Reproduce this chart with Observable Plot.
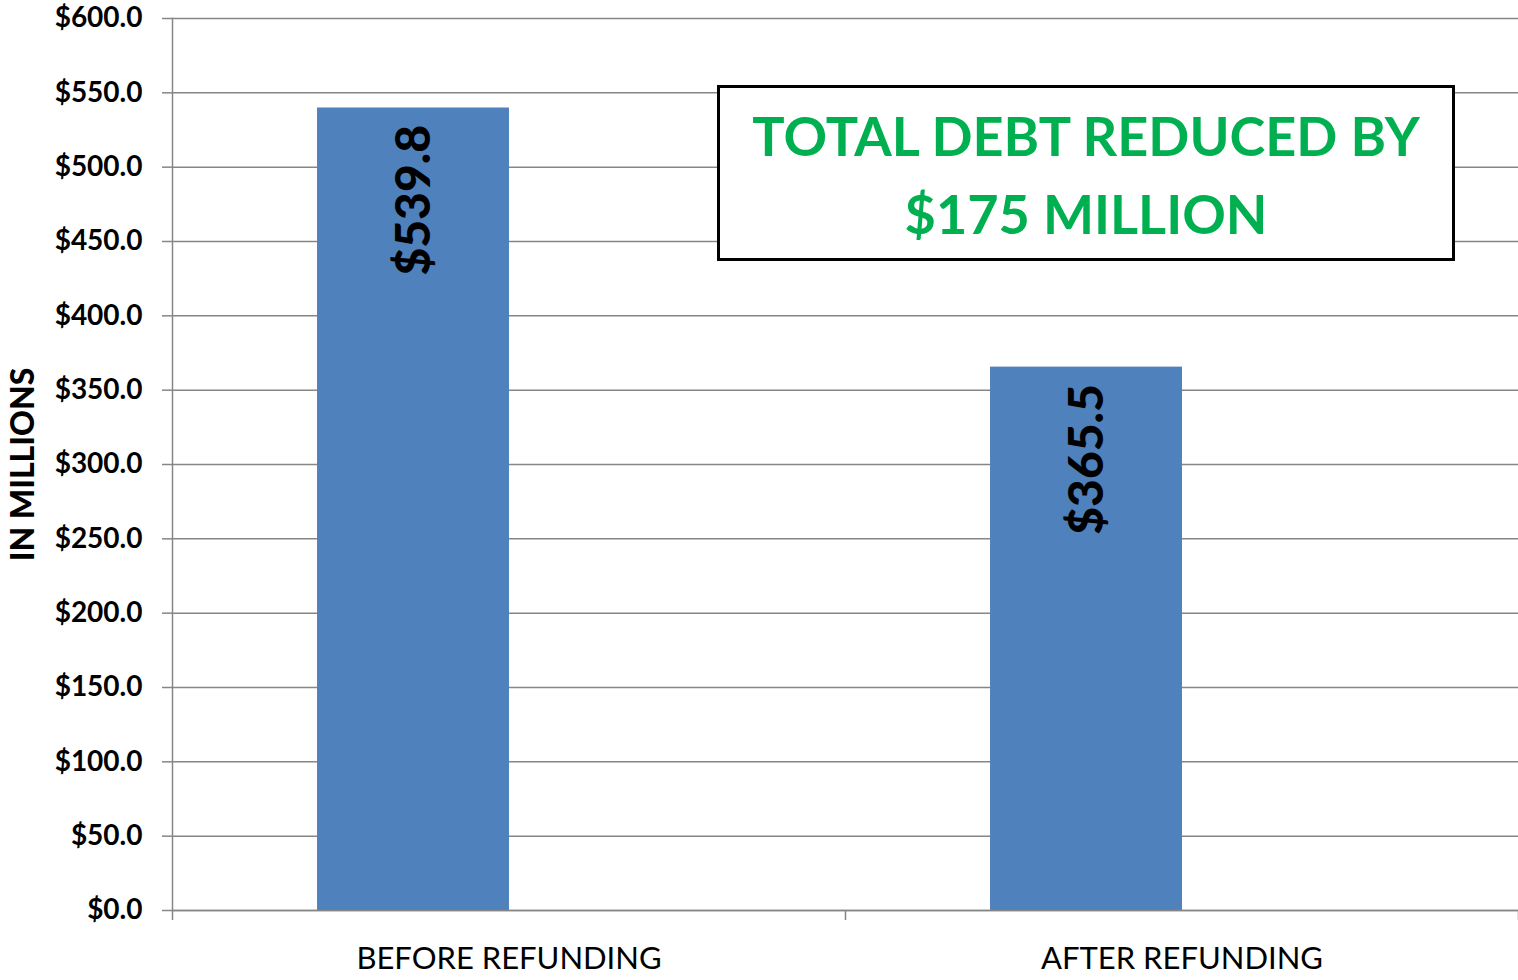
<!DOCTYPE html>
<html>
<head>
<meta charset="utf-8">
<script src="https://cdn.jsdelivr.net/npm/d3@7"></script>
<script src="https://cdn.jsdelivr.net/npm/@observablehq/plot@0.6"></script>
<style>
  html, body { margin: 0; padding: 0; background: #fff; }
  #wrap { position: relative; width: 1518px; height: 980px; font-family: Lato, "Open Sans", sans-serif; }
  #note {
    position: absolute; left: 717px; top: 85px; width: 738px; height: 176px;
    box-sizing: border-box; border: 3.5px solid #000; background: #fff;
    color: #00B050; font-weight: bold; font-size: 54px; line-height: 78px;
    text-align: center; padding-top: 9px; font-family: Lato, sans-serif;
  }
</style>
</head>
<body>
<div id="wrap"><div id="note"></div></div>
<script>
const categories = ["BEFORE REFUNDING", "AFTER REFUNDING"];
const values = [539.8, 365.5];
const valueLabels = ["$539.8", "$365.5"];
const yTicks = [0, 50, 100, 150, 200, 250, 300, 350, 400, 450, 500, 550, 600];
const yLabel = "IN MILLIONS";
const noteLines = ["TOTAL DEBT REDUCED BY", "$175 MILLION"];

const rows = categories.map((c, i) => ({category: c, value: values[i], label: valueLabels[i]}));

const W = 1518, H = 980, mL = 172, mR = 0, mT = 18, mB = 70;
const bw = (W - mL - mR) / categories.length;
const insetL = bw * 0.2155, insetR = bw * 0.4993;
const barCenterShift = insetL + (bw - insetL - insetR) / 2 - bw / 2;
const gridColor = "#868686";

const chart = Plot.plot({
  width: W, height: H,
  marginLeft: mL, marginRight: mR, marginTop: mT, marginBottom: mB,
  style: {fontFamily: "Lato, 'Open Sans', sans-serif", background: "#fff", color: "#000"},
  x: {domain: categories, padding: 0, label: null, axis: null},
  y: {domain: [0, 600], label: null, axis: null},
  marks: [
    Plot.ruleY(yTicks, {stroke: gridColor, strokeWidth: 1.5}),
    Plot.axisY({ticks: yTicks, tickFormat: d => "$" + d.toFixed(1), tickSize: 10, tickPadding: 20,
      fontSize: 28, fontWeight: "bold", stroke: gridColor, fill: "#000", label: null, strokeWidth: 1.5}),
    Plot.axisX({tickSize: 0, tickPadding: 36, fontSize: 31, label: null, fill: "#000"}),
    Plot.barY(rows, {x: "category", y: "value", fill: "#4F81BD", insetLeft: insetL, insetRight: insetR}),
    Plot.frame({anchor: "left", stroke: gridColor, strokeWidth: 1.5}),
    Plot.ruleY([0], {stroke: gridColor, strokeWidth: 1.5}),
    Plot.ruleX(categories, {x: d => d, y1: 0, y2: 0, insetBottom: -10, dx: -bw / 2, stroke: gridColor, strokeWidth: 1.5}),
    Plot.ruleX(categories.slice(-1), {x: d => d, y1: 0, y2: 0, insetBottom: -10, dx: bw / 2, stroke: gridColor, strokeWidth: 1.5}),
    Plot.text(rows, {x: "category", y: "value", text: "label", rotate: -90, textAnchor: "end",
      lineAnchor: "middle", dy: 17, dx: barCenterShift + 1, fontSize: 48, fontWeight: 900, fill: "#000"}),
    Plot.text([yLabel], {frameAnchor: "left", rotate: -90, dx: -149, fontSize: 32, fontWeight: 900,
      textAnchor: "middle", lineAnchor: "middle", fill: "#000"})
  ]
});

const wrap = document.getElementById("wrap");
wrap.insertBefore(chart, wrap.firstChild);
document.getElementById("note").innerHTML = noteLines.join("<br>");
</script>
</body>
</html>
